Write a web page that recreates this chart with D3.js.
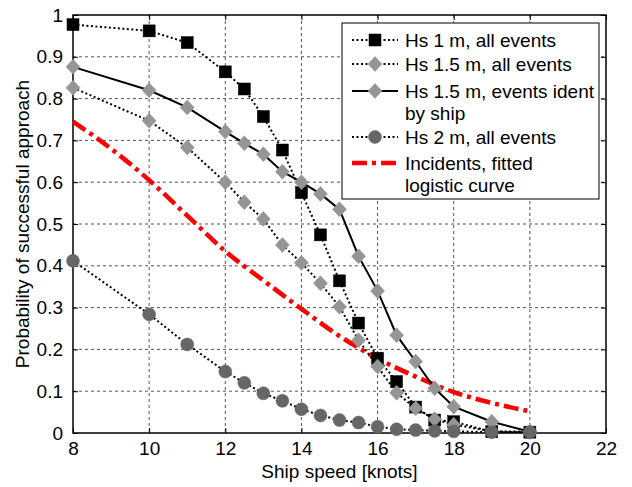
<!DOCTYPE html>
<html>
<head>
<meta charset="utf-8">
<script src="https://cdn.jsdelivr.net/npm/d3@7"></script>
<style>
  body { margin: 0; background: #fff; }
  svg text { font-family: "Liberation Sans", Arial, sans-serif; }
</style>
</head>
<body>
<div id="canvas"></div>
<script>
// ship speed vs probability of successful approach

const speeds = [8, 10, 11, 12, 12.5, 13, 13.5, 14, 14.5, 15, 15.5, 16, 16.5, 17, 17.5, 18, 19, 20];
const hs1All   = [0.977, 0.962, 0.934, 0.864, 0.823, 0.757, 0.677, 0.575, 0.474, 0.364, 0.263, 0.179, 0.123, 0.062, 0.031, 0.027, 0.003, 0.002];
const hs15All  = [0.826, 0.747, 0.683, 0.600, 0.552, 0.512, 0.450, 0.407, 0.358, 0.302, 0.222, 0.159, 0.096, 0.059, 0.033, 0.020, 0.004, 0.003];
const hs15Ship = [0.876, 0.820, 0.779, 0.721, 0.693, 0.667, 0.625, 0.600, 0.572, 0.535, 0.423, 0.340, 0.234, 0.171, 0.107, 0.063, 0.027, 0.003];
const hs2All   = [0.412, 0.284, 0.212, 0.147, 0.120, 0.095, 0.077, 0.057, 0.042, 0.031, 0.025, 0.015, 0.009, 0.007, 0.005, 0.004, 0.002, 0.002];

const fitSpeeds = [8, 9, 10, 11, 12, 13, 14, 15, 16, 17, 18, 19, 20];
const fitProb   = [0.745, 0.680, 0.605, 0.520, 0.435, 0.365, 0.297, 0.232, 0.178, 0.135, 0.098, 0.072, 0.052];

const xTicks = [8, 10, 12, 14, 16, 18, 20, 22];
const yTicks = [0, 0.1, 0.2, 0.3, 0.4, 0.5, 0.6, 0.7, 0.8, 0.9, 1];
const yTickLabels = ["0", "0.1", "0.2", "0.3", "0.4", "0.5", "0.6", "0.7", "0.8", "0.9", "1"];

const legendLabels = [
  ["Hs 1 m, all events"],
  ["Hs 1.5 m, all events"],
  ["Hs 1.5 m, events ident", "by ship"],
  ["Hs 2 m, all events"],
  ["Incidents, fitted", "logistic curve"]
];

const width = 632, height = 487;
const pLeft = 73, pRight = 606, pTop = 15, pBottom = 433;
const fs = 19;
const dotted = "2,2.5";

const svg = d3.select("#canvas").append("svg")
  .attr("width", width).attr("height", height)
  .style("background", "#fff");

const x = d3.scaleLinear().domain([8, 22]).range([pLeft, pRight]);
const y = d3.scaleLinear().domain([0, 1]).range([pBottom, pTop]);

// grid
const grid = svg.append("g");
grid.selectAll("line.gx").data(xTicks.slice(1, -1)).enter().append("line")
  .attr("x1", d => x(d)).attr("x2", d => x(d))
  .attr("y1", pTop).attr("y2", pBottom)
  .attr("stroke", "#555").attr("stroke-width", 1).attr("stroke-dasharray", "3,3");
grid.selectAll("line.gy").data(yTicks.slice(1, -1)).enter().append("line")
  .attr("x1", pLeft).attr("x2", pRight)
  .attr("y1", d => y(d)).attr("y2", d => y(d))
  .attr("stroke", "#555").attr("stroke-width", 1).attr("stroke-dasharray", "3,3");

// axes
const xAxis = svg.append("g").attr("transform", `translate(0,${pBottom})`)
  .call(d3.axisBottom(x).tickValues(xTicks).tickSizeInner(-5).tickSizeOuter(0).tickPadding(9).tickFormat(d3.format("d")));
const yAxis = svg.append("g").attr("transform", `translate(${pLeft},0)`)
  .call(d3.axisLeft(y).tickValues(yTicks).tickSizeInner(-5).tickSizeOuter(0).tickPadding(10)
    .tickFormat((d, i) => yTickLabels[i]));
svg.append("g").attr("transform", `translate(0,${pTop})`)
  .call(d3.axisTop(x).tickValues(xTicks).tickSizeInner(-5).tickSizeOuter(0).tickFormat(""));
svg.append("g").attr("transform", `translate(${pRight},0)`)
  .call(d3.axisRight(y).tickValues(yTicks).tickSizeInner(-5).tickSizeOuter(0).tickFormat(""));

svg.selectAll(".domain").remove();
svg.selectAll(".tick line").attr("stroke", "#000");
[xAxis, yAxis].forEach(a => a.selectAll("text")
  .attr("font-size", fs).attr("fill", "#000")
  .style("font-family", "'Liberation Sans', Arial, sans-serif"));

svg.append("rect")
  .attr("x", pLeft).attr("y", pTop)
  .attr("width", pRight - pLeft).attr("height", pBottom - pTop)
  .attr("fill", "none").attr("stroke", "#000").attr("stroke-width", 1.5);

// axis titles
svg.append("text")
  .attr("x", (pLeft + pRight) / 2).attr("y", 478)
  .attr("text-anchor", "middle").attr("font-size", fs)
  .text("Ship speed [knots]");
svg.append("text")
  .attr("transform", `translate(29,${(pTop + pBottom) / 2}) rotate(-90)`)
  .attr("text-anchor", "middle").attr("font-size", fs)
  .text("Probability of successful approach");

// series
const line = d3.line().x(d => x(d[0])).y(d => y(d[1]));
const plot = svg.append("g");

function marker(g, type, cx, cy) {
  if (type === "square") {
    g.append("rect").attr("x", cx - 6).attr("y", cy - 6).attr("width", 12).attr("height", 12)
      .attr("fill", "#000").attr("stroke", "#000").attr("stroke-width", 0.5);
  } else if (type === "diamond") {
    g.append("path").attr("d", `M${cx},${cy - 7.5}L${cx + 7},${cy}L${cx},${cy + 7.5}L${cx - 7},${cy}Z`)
      .attr("fill", "#959595").attr("stroke", "#959595").attr("stroke-width", 0.5);
  } else if (type === "circle") {
    g.append("circle").attr("cx", cx).attr("cy", cy).attr("r", 6.5)
      .attr("fill", "#666").attr("stroke", "#666").attr("stroke-width", 0.5);
  }
}

const series = [
  { vals: hs1All,   marker: "square",  dash: dotted },
  { vals: hs15All,  marker: "diamond", dash: dotted },
  { vals: hs15Ship, marker: "diamond", dash: null },
  { vals: hs2All,   marker: "circle",  dash: dotted }
];

// fitted curve drawn under markers
plot.append("path")
  .datum(fitSpeeds.map((s, i) => [s, fitProb[i]]))
  .attr("d", d3.line().x(d => x(d[0])).y(d => y(d[1])).curve(d3.curveMonotoneX))
  .attr("fill", "none").attr("stroke", "#ff0000").attr("stroke-width", 4.5)
  .attr("stroke-dasharray", "15,5,4,5");

series.forEach(s => {
  const pts = speeds.map((v, i) => [v, s.vals[i]]);
  const g = plot.append("g");
  g.append("path").datum(pts).attr("d", line)
    .attr("fill", "none").attr("stroke", "#000").attr("stroke-width", 2)
    .attr("stroke-dasharray", s.dash);
  pts.forEach(p => marker(g, s.marker, x(p[0]), y(p[1])));
});

// legend
const lg = svg.append("g");
lg.append("rect").attr("x", 342).attr("y", 23).attr("width", 257).attr("height", 176)
  .attr("fill", "#fff").attr("stroke", "#000").attr("stroke-width", 1);

const rows = [
  { lines: legendLabels[0], cy: 40,  marker: "square",  dash: dotted, color: "#000", w: 2 },
  { lines: legendLabels[1], cy: 64,  marker: "diamond", dash: dotted, color: "#000", w: 2 },
  { lines: legendLabels[2], cy: 91,  marker: "diamond", dash: null,   color: "#000", w: 2 },
  { lines: legendLabels[3], cy: 137, marker: "circle",  dash: dotted, color: "#000", w: 2 },
  { lines: legendLabels[4], cy: 163, marker: null,      dash: "15,5,4,5", color: "#ff0000", w: 4.5 }
];
rows.forEach(r => {
  lg.append("line").attr("x1", 352).attr("x2", 398).attr("y1", r.cy).attr("y2", r.cy)
    .attr("stroke", r.color).attr("stroke-width", r.w).attr("stroke-dasharray", r.dash);
  if (r.marker) marker(lg, r.marker, 375, r.cy);
  r.lines.forEach((t, k) => {
    lg.append("text").attr("x", 405).attr("y", r.cy + 6.5 + k * 22)
      .attr("font-size", fs).text(t);
  });
});
</script>
</body>
</html>
